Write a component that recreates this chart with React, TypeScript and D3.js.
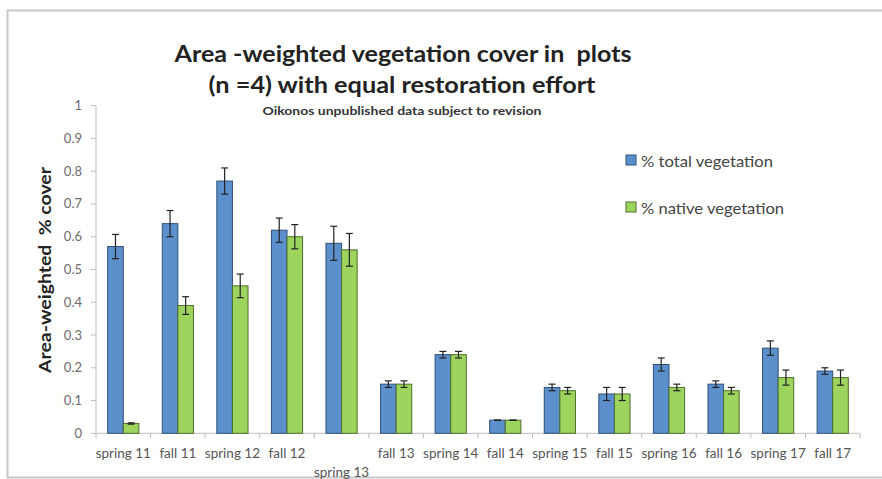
import React, { useEffect, useRef } from "react";
import * as d3 from "d3";

const categories = [
  "spring 11", "fall 11", "spring 12", "fall 12", "spring 13", "fall 13", "spring 14",
  "fall 14", "spring 15", "fall 15", "spring 16", "fall 16", "spring 17", "fall 17",
];
const seriesNames = ["% total vegetation", "% native vegetation"];
const totalVeg = [0.57, 0.64, 0.77, 0.62, 0.58, 0.15, 0.24, 0.04, 0.14, 0.12, 0.21, 0.15, 0.26, 0.19];
const totalErr = [0.037, 0.04, 0.04, 0.037, 0.052, 0.01, 0.01, 0, 0.01, 0.02, 0.02, 0.01, 0.022, 0.01];
const nativeVeg = [0.03, 0.39, 0.45, 0.6, 0.56, 0.15, 0.24, 0.04, 0.13, 0.12, 0.14, 0.13, 0.17, 0.17];
const nativeErr = [0.002, 0.027, 0.036, 0.037, 0.05, 0.01, 0.01, 0, 0.01, 0.02, 0.01, 0.01, 0.023, 0.023];
const yTicks = [0, 0.1, 0.2, 0.3, 0.4, 0.5, 0.6, 0.7, 0.8, 0.9, 1];

const FONT = "Lato, 'Open Sans', sans-serif";

function Chart() {
  const ref = useRef<SVGSVGElement>(null);

  useEffect(() => {
    const width = 882;
    const height = 479;
    const left = 96, right = 860, top = 105.7, bottom = 433.3;

    const svg = d3.select(ref.current).attr("width", width).attr("height", height);
    svg.selectAll("*").remove();

    svg.append("rect").attr("width", width).attr("height", height).attr("fill", "#fff");
    // frame around the pasted chart
    svg.append("rect")
      .attr("x", 7.5).attr("y", 10.5).attr("width", 900).attr("height", 467)
      .attr("fill", "none").attr("stroke", "#c8c8c8").attr("stroke-width", 2);

    const x = d3.scaleBand().domain(categories).range([left, right]).paddingInner(0).paddingOuter(0);
    const xs = d3.scaleBand().domain(seriesNames).range([0, x.bandwidth()]).paddingInner(0).paddingOuter(0.75);
    const y = d3.scaleLinear().domain([0, 1]).range([bottom, top]);

    const colors = ["#5b90cc", "#9dd45e"];
    const strokes = ["#2f4f78", "#4f6e2c"];

    // axes
    const yAxis = svg.append("g");
    yAxis.append("line").attr("x1", left).attr("x2", left).attr("y1", y(1)).attr("y2", y(0))
      .attr("stroke", "#bdbdbd");
    yAxis.selectAll("line.tick").data(yTicks).enter().append("line").attr("class", "tick")
      .attr("x1", left - 5).attr("x2", left).attr("y1", d => y(d)).attr("y2", d => y(d))
      .attr("stroke", "#bdbdbd");
    yAxis.selectAll("text").data(yTicks).enter().append("text")
      .attr("x", 82).attr("y", d => y(d) + 4.5)
      .attr("text-anchor", "end")
      .style("font-family", FONT).style("font-size", "13px").attr("fill", "#6b6b6b")
      .text(d => String(d));

    const xAxis = svg.append("g");
    xAxis.append("line").attr("x1", left).attr("x2", right).attr("y1", bottom).attr("y2", bottom)
      .attr("stroke", "#bdbdbd");
    const bounds = categories.map(c => x(c) as number).concat([right]);
    xAxis.selectAll("line.tick").data(bounds).enter().append("line").attr("class", "tick")
      .attr("x1", d => d).attr("x2", d => d).attr("y1", bottom).attr("y2", bottom + 5)
      .attr("stroke", "#bdbdbd");
    xAxis.selectAll("text").data(categories).enter().append("text")
      .attr("x", d => (x(d) as number) + x.bandwidth() / 2)
      .attr("y", d => (d === "spring 13" ? 477 : 458))
      .attr("text-anchor", "middle")
      .style("font-family", FONT).style("font-size", "13.5px").attr("fill", "#555")
      .text(d => d);

    // bars
    const series = [
      { name: seriesNames[0], values: totalVeg, errs: totalErr },
      { name: seriesNames[1], values: nativeVeg, errs: nativeErr },
    ];
    series.forEach((s, si) => {
      const g = svg.append("g");
      g.selectAll("rect").data(categories).enter().append("rect")
        .attr("x", (d) => (x(d) as number) + (xs(s.name) as number))
        .attr("y", (d, i) => y(s.values[i]))
        .attr("width", xs.bandwidth())
        .attr("height", (d, i) => bottom - y(s.values[i]))
        .attr("fill", colors[si]).attr("stroke", strokes[si]).attr("stroke-width", 1);

      const eb = g.selectAll("g.err").data(categories).enter().append("g").attr("class", "err")
        .attr("stroke", "#222").attr("stroke-width", 1.2);
      const cx = (d: string) => (x(d) as number) + (xs(s.name) as number) + xs.bandwidth() / 2;
      eb.append("line")
        .attr("x1", d => cx(d)).attr("x2", d => cx(d))
        .attr("y1", (d, i) => y(s.values[i] + s.errs[i]))
        .attr("y2", (d, i) => y(s.values[i] - s.errs[i]));
      [1, -1].forEach(sign => {
        eb.append("line")
          .attr("x1", d => cx(d) - 3.5).attr("x2", d => cx(d) + 3.5)
          .attr("y1", (d, i) => y(s.values[i] + sign * s.errs[i]))
          .attr("y2", (d, i) => y(s.values[i] + sign * s.errs[i]));
      });
    });

    // legend
    const legend = svg.append("g");
    const legendLen = [132, 143];
    seriesNames.forEach((n, i) => {
      const ly = 155 + i * 47;
      legend.append("rect").attr("x", 626).attr("y", ly).attr("width", 10).attr("height", 10)
        .attr("fill", colors[i]).attr("stroke", strokes[i]);
      legend.append("text").attr("x", 641).attr("y", ly + 12)
        .attr("textLength", legendLen[i]).attr("lengthAdjust", "spacingAndGlyphs")
        .style("font-family", FONT).style("font-size", "15px").attr("fill", "#444")
        .text(n);
    });

    // titles
    svg.append("text").attr("x", 403).attr("y", 62).attr("text-anchor", "middle")
      .attr("textLength", 457).attr("lengthAdjust", "spacingAndGlyphs")
      .style("white-space", "pre")
      .style("font-family", FONT).style("font-size", "23px").style("font-weight", "bold").attr("fill", "#222")
      .text("Area -weighted vegetation cover in  plots");
    svg.append("text").attr("x", 402).attr("y", 93).attr("text-anchor", "middle")
      .attr("textLength", 387).attr("lengthAdjust", "spacingAndGlyphs")
      .style("font-family", FONT).style("font-size", "23px").style("font-weight", "bold").attr("fill", "#222")
      .text("(n =4) with equal restoration effort");
    svg.append("text").attr("x", 402).attr("y", 115).attr("text-anchor", "middle")
      .attr("textLength", 279).attr("lengthAdjust", "spacingAndGlyphs")
      .style("font-family", FONT).style("font-size", "10.5px").style("font-weight", "bold").attr("fill", "#333")
      .text("Oikonos unpublished data subject to revision");

    svg.append("text")
      .attr("x", -270).attr("y", 51)
      .attr("transform", "rotate(-90)")
      .attr("text-anchor", "middle")
      .attr("textLength", 206).attr("lengthAdjust", "spacingAndGlyphs")
      .style("white-space", "pre")
      .style("font-family", FONT).style("font-size", "17px").style("font-weight", "bold").attr("fill", "#222")
      .text("Area-weighted  % cover");
  }, []);

  return <svg ref={ref} style={{ position: "absolute", left: 0, top: 0, display: "block" }}></svg>;
}

export default function App() {
  return <Chart />;
}
